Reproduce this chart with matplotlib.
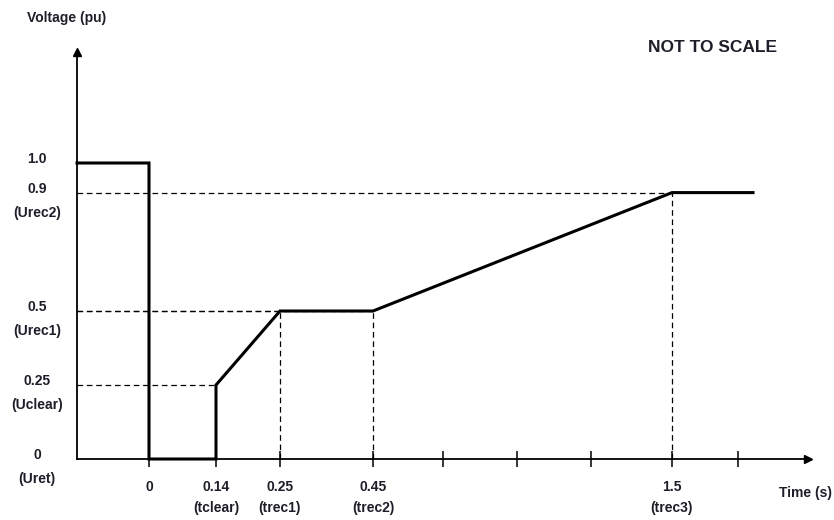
import numpy as np
import matplotlib
import matplotlib.pyplot as plt
from matplotlib.transforms import offset_copy, blended_transform_factory

matplotlib.use('Agg')
plt.rcParams['font.family'] = ['Liberation Sans', 'DejaVu Sans']

# valeurs de la courbe (temps en s, tension en pu)
curve_t = [-0.25, 0, 0, 0.14, 0.14, 0.25, 0.45, 1.5, 1.8]
curve_v = [1.0, 1.0, 0, 0, 0.25, 0.5, 0.5, 0.9, 0.9]

# repères
time_ticks = [0, 0.14, 0.25, 0.45, 1.5]
time_nums = ['0', '0.14', '0.25', '0.45', '1.5']
time_names = ['', '(tclear)', '(trec1)', '(trec2)', '(trec3)']
volt_ticks = [1.0, 0.9, 0.5, 0.25, 0]
volt_nums = ['1.0', '0.9', '0.5', '0.25', '0']
volt_names = ['', '(Urec2)', '(Urec1)', '(Uclear)', '(Uret)']

# lignes pointillées : (tension, temps)
guides_t = [0.14, 0.25, 0.45, 1.5]
guides_v = [0.25, 0.5, 0.5, 0.9]

# échelle "pas à l'échelle" : temps -> position horizontale
knot_t = [-0.52, -0.25, 0, 0.14, 0.25, 0.45, 1.5, 1.8, 2.0, 2.1]
knot_px = [0, 77, 149, 216, 280, 373, 672, 753, 808, 834]
t_axis = -0.25
t_end = 2.0
v_top = 1.375

def fwd(t):
    return np.interp(t, knot_t, knot_px)

def inv(u):
    return np.interp(u, knot_px, knot_t)

ink = '#1e1e2a'

fig = plt.figure(figsize=(8.34, 5.2), dpi=100)
ax = fig.add_axes([0, 0, 1, 1])
ax.set_xscale('function', functions=(fwd, inv))
ax.set_xlim(knot_t[0], knot_t[-1])
ax.set_ylim(-61 / 296, 459 / 296)

# axes
for s in ['top', 'right', 'left']:
    ax.spines[s].set_visible(False)
ax.spines['bottom'].set_position(('data', 0))
ax.spines['bottom'].set_bounds(t_axis, t_end)
ax.spines['bottom'].set_linewidth(1.3)
ax.plot([t_axis, t_axis], [0, v_top], color='black', lw=1.3)
ax.plot([t_axis], [v_top], marker='^', color='black', ms=6)
ax.plot([t_end], [0], marker='>', color='black', ms=6)

ax.set_yticks([])
minor_t = inv(np.array([443, 517, 591, 738]))
ax.set_xticks(time_ticks)
ax.set_xticks(minor_t, minor=True)
ax.set_xticklabels([])
ax.tick_params(axis='x', which='both', direction='inout', length=11, width=1.1)

# pointillés
for t, v in zip(guides_t, guides_v):
    ax.plot([t_axis, t], [v, v], color='black', lw=0.9, ls=(0, (4.5, 3)))
for t, v in zip(guides_t[1:], guides_v[1:]):
    ax.plot([t, t], [0, v], color='black', lw=0.9, ls=(0, (4.5, 3)))

# courbe de tension
ax.plot(curve_t, curve_v, color='black', lw=2.2, solid_joinstyle='miter')

# libellés
blend = blended_transform_factory(fig.transFigure, ax.transData)
for v, num, name in zip(volt_ticks, volt_nums, volt_names):
    ax.text(37 / 834, v, num, transform=offset_copy(blend, fig=fig, y=4, units='dots'),
            ha='center', va='center', fontsize=10, fontweight='bold', color=ink)
    if name:
        ax.text(37 / 834, v, name, transform=offset_copy(blend, fig=fig, y=-20, units='dots'),
                ha='center', va='center', fontsize=10, fontweight='bold', color=ink)

for t, num, name in zip(time_ticks, time_nums, time_names):
    ax.text(t, 0, num, transform=offset_copy(ax.transData, fig=fig, y=-28, units='dots'),
            ha='center', va='center', fontsize=10, fontweight='bold', color=ink)
    if name:
        ax.text(t, 0, name, transform=offset_copy(ax.transData, fig=fig, y=-49, units='dots'),
                ha='center', va='center', fontsize=10, fontweight='bold', color=ink)

fig.text(27 / 834, 1 - 18 / 520, 'Voltage (pu)', ha='left', va='center',
         fontsize=10, fontweight='bold', color=ink)
fig.text(832 / 834, 1 - 493 / 520, 'Time (s)', ha='right', va='center',
         fontsize=10, fontweight='bold', color=ink)
fig.text(713 / 834, 1 - 47 / 520, 'NOT TO SCALE', ha='center', va='center',
         fontsize=12.5, fontweight='bold', color=ink)

fig.savefig('out.png', dpi=100)
